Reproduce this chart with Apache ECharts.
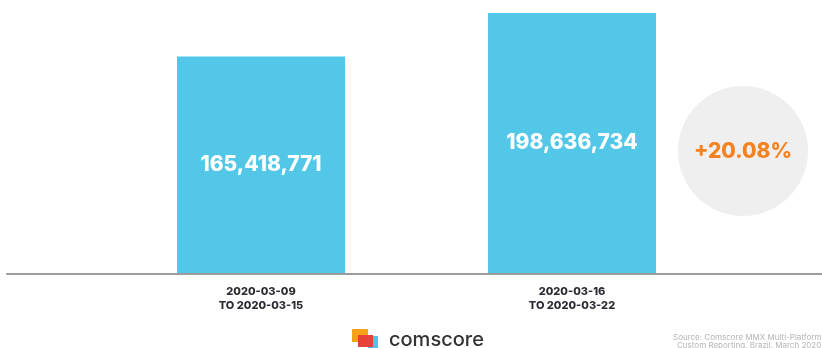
<!DOCTYPE html>
<html>
<head>
<meta charset="utf-8">
<script src="https://cdn.jsdelivr.net/npm/echarts@6/dist/echarts.min.js"></script>
<style>
  html, body { margin: 0; padding: 0; background: #ffffff; }
  #chart { width: 822px; height: 348px; }
</style>
</head>
<body>
<div id="chart"></div>
<script>
// Weekly unique audience, two consecutive weeks
const weeks = ['2020-03-09\nTO 2020-03-15', '2020-03-16\nTO 2020-03-22'];
const audience = [165418771, 198636734];
const sourceLines = ['Source: Comscore MMX Multi-Platform', 'Custom Reporting, Brazil, March 2020'];

const growth = (audience[1] / audience[0] - 1) * 100;
const growthText = (growth >= 0 ? '+' : '') + growth.toFixed(2) + '%';

const chart = echarts.init(document.getElementById('chart'), null, { renderer: 'canvas' });

const option = {
  animation: false,
  backgroundColor: '#ffffff',
  grid: [
    { left: 105.5, right: 94.5, top: 13, bottom: 75 },
    { left: 7, right: 0, top: 13, bottom: 74 }
  ],
  xAxis: [
    {
      type: 'category',
      gridIndex: 0,
      data: weeks,
      axisLine: { show: false },
      axisTick: { show: false },
      axisLabel: {
        margin: 12,
        color: '#2b2b33',
        fontFamily: 'Inter',
        fontWeight: 800,
        fontSize: 11,
        lineHeight: 14,
        letterSpacing: 1.5
      }
    },
    {
      type: 'value',
      gridIndex: 1,
      axisLine: { show: true, lineStyle: { color: '#9c9c9c', width: 2 } },
      axisTick: { show: false },
      axisLabel: { show: false },
      splitLine: { show: false }
    }
  ],
  yAxis: [
    { type: 'value', gridIndex: 0, min: 0, max: audience[1], show: false },
    { type: 'value', gridIndex: 1, show: false }
  ],
  series: [
    {
      type: 'bar',
      xAxisIndex: 0,
      yAxisIndex: 0,
      data: audience,
      barWidth: 168,
      itemStyle: { color: '#53c7e8' },
      label: {
        show: true,
        position: 'inside',
        color: '#ffffff',
        fontFamily: 'Inter',
        fontWeight: 800,
        fontSize: 21,
        formatter: p => p.value.toLocaleString('en-US')
      }
    }
  ],
  graphic: [
    {
      type: 'circle',
      shape: { cx: 743, cy: 151, r: 65 },
      style: { fill: '#efefef' },
      z: 10
    },
    {
      type: 'text',
      x: 743, y: 152,
      style: {
        text: growthText,
        fill: '#f58220',
        font: '800 21px Inter',
        align: 'center',
        verticalAlign: 'middle'
      },
      z: 11
    },
    // brand mark
    { type: 'rect', shape: { x: 352, y: 329, width: 16, height: 13 }, style: { fill: '#f7a11a' }, z: 10 },
    { type: 'rect', shape: { x: 368, y: 336, width: 10, height: 12 }, style: { fill: '#4fc3ea' }, z: 10 },
    { type: 'rect', shape: { x: 358, y: 335, width: 15, height: 12 }, style: { fill: '#e8413b' }, z: 11 },
    {
      type: 'text',
      x: 389, y: 340,
      style: {
        text: 'comscore',
        fill: '#333333',
        font: '500 20px Inter',
        verticalAlign: 'middle'
      },
      z: 10
    },
    {
      type: 'text',
      x: 673, y: 338,
      style: { text: sourceLines[0], fill: '#b5b5b5', font: '8px Inter', verticalAlign: 'middle' },
      z: 10
    },
    {
      type: 'text',
      x: 677, y: 346,
      style: { text: sourceLines[1], fill: '#b5b5b5', font: '8px Inter', verticalAlign: 'middle' },
      z: 10
    }
  ]
};

chart.setOption(option);
</script>
</body>
</html>
